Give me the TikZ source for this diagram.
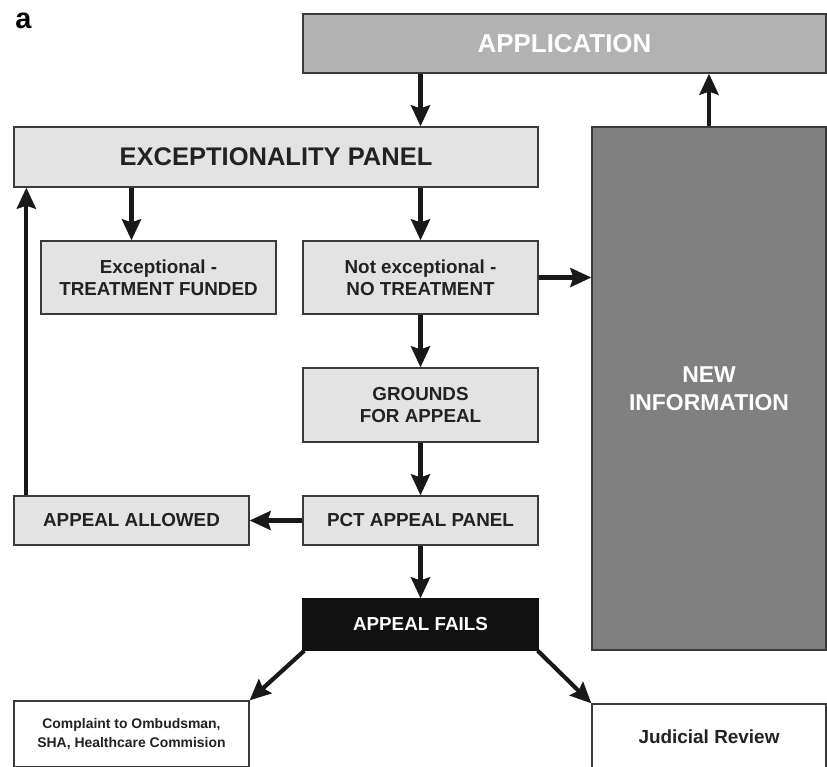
\documentclass[tikz,border=0pt]{standalone}
\usepackage{fontspec}
\setmainfont{Liberation Sans}
\usetikzlibrary{arrows.meta}
\definecolor{lightbox}{HTML}{E3E3E3}
\definecolor{appbox}{HTML}{B2B2B2}
\definecolor{newbox}{HTML}{808080}
\definecolor{failbox}{HTML}{111111}
\definecolor{edge}{HTML}{3A3A3A}
\definecolor{txt}{HTML}{222222}
\tikzset{
  boxbase/.style={draw=edge, line width=1.3bp, inner sep=0pt, align=center, font=\bfseries},
  lightnode/.style={boxbase, fill=lightbox, text=txt},
  arr/.style={line width=4.2bp, draw=black!90, -{Stealth[length=21bp,width=19bp,inset=3bp]}},
}
\begin{document}
\begin{tikzpicture}[x=1bp,y=-1bp]
\useasboundingbox (0,0) rectangle (827,767);
\node[font=\bfseries\fontsize{29}{32}\selectfont, anchor=center] (lbl) at (23.5,21) {a};
\node[boxbase, fill=appbox, text=white, minimum width=523bp, minimum height=59bp, font=\bfseries\fontsize{26}{30}\selectfont] (app) at (564.5,43.5) {APPLICATION};
\node[lightnode, minimum width=524bp, minimum height=60bp, font=\bfseries\fontsize{25.6}{30}\selectfont] (ep) at (276,157) {EXCEPTIONALITY PANEL};
\node[boxbase, fill=newbox, text=white, minimum width=234bp, minimum height=523bp, font=\bfseries\fontsize{23}{28}\selectfont] (newinfo) at (709,388.5) {NEW\\INFORMATION};
\node[lightnode, minimum width=235bp, minimum height=73bp, font=\bfseries\fontsize{18.9}{22}\selectfont] (exc) at (158.5,277.5) {Exceptional -\\TREATMENT FUNDED};
\node[lightnode, minimum width=235bp, minimum height=73bp, font=\bfseries\fontsize{18.9}{22}\selectfont] (notexc) at (420.5,277.5) {Not exceptional -\\NO TREATMENT};
\node[lightnode, minimum width=235bp, minimum height=74bp, font=\bfseries\fontsize{18.9}{23}\selectfont] (grounds) at (420.5,405) {GROUNDS\\FOR APPEAL};
\node[lightnode, minimum width=235bp, minimum height=49bp, font=\bfseries\fontsize{18.9}{22}\selectfont] (pct) at (420.5,520.5) {PCT APPEAL PANEL};
\node[lightnode, minimum width=235bp, minimum height=49bp, font=\bfseries\fontsize{18.9}{22}\selectfont] (allowed) at (131.5,520.5) {APPEAL ALLOWED};
\node[boxbase, fill=failbox, draw=failbox, text=white, minimum width=235bp, minimum height=51bp, font=\bfseries\fontsize{18.9}{22}\selectfont] (fails) at (420.5,624.5) {APPEAL FAILS};
\node[boxbase, fill=white, text=txt, minimum width=235bp, minimum height=66bp, font=\bfseries\fontsize{14}{18.5}\selectfont] (complaint) at (131.5,734) {Complaint to Ombudsman,\\SHA, Healthcare Commision};
\node[boxbase, fill=white, text=txt, minimum width=234bp, minimum height=66bp, font=\bfseries\fontsize{19}{22}\selectfont] (judicial) at (709,737) {Judicial Review};
% connectors
\draw[arr] (app.south -| notexc) -- (ep.north -| notexc);
\draw[arr] (newinfo.north) -- (app.south -| newinfo.north);
\draw[arr] (ep.south -| allowed) -- (exc.north -| allowed);
\draw[arr] (ep.south -| notexc) -- (notexc.north);
\draw[arr] (notexc.east) -- (newinfo.west |- notexc.east);
\draw[arr] (notexc.south) -- (grounds.north);
\draw[arr] (grounds.south) -- (pct.north);
\draw[arr] (pct.west) -- (allowed.east);
\coordinate (c1) at ([xshift=13bp]allowed.north west);
\draw[arr] (c1) -- (c1 |- ep.south);
\draw[arr] (pct.south) -- (fails.north);
\draw[arr] ([xshift=2bp]fails.south west) -- (complaint.north east);
\draw[arr] ([xshift=-1bp]fails.south east) -- (judicial.north west);
\end{tikzpicture}
\end{document}
